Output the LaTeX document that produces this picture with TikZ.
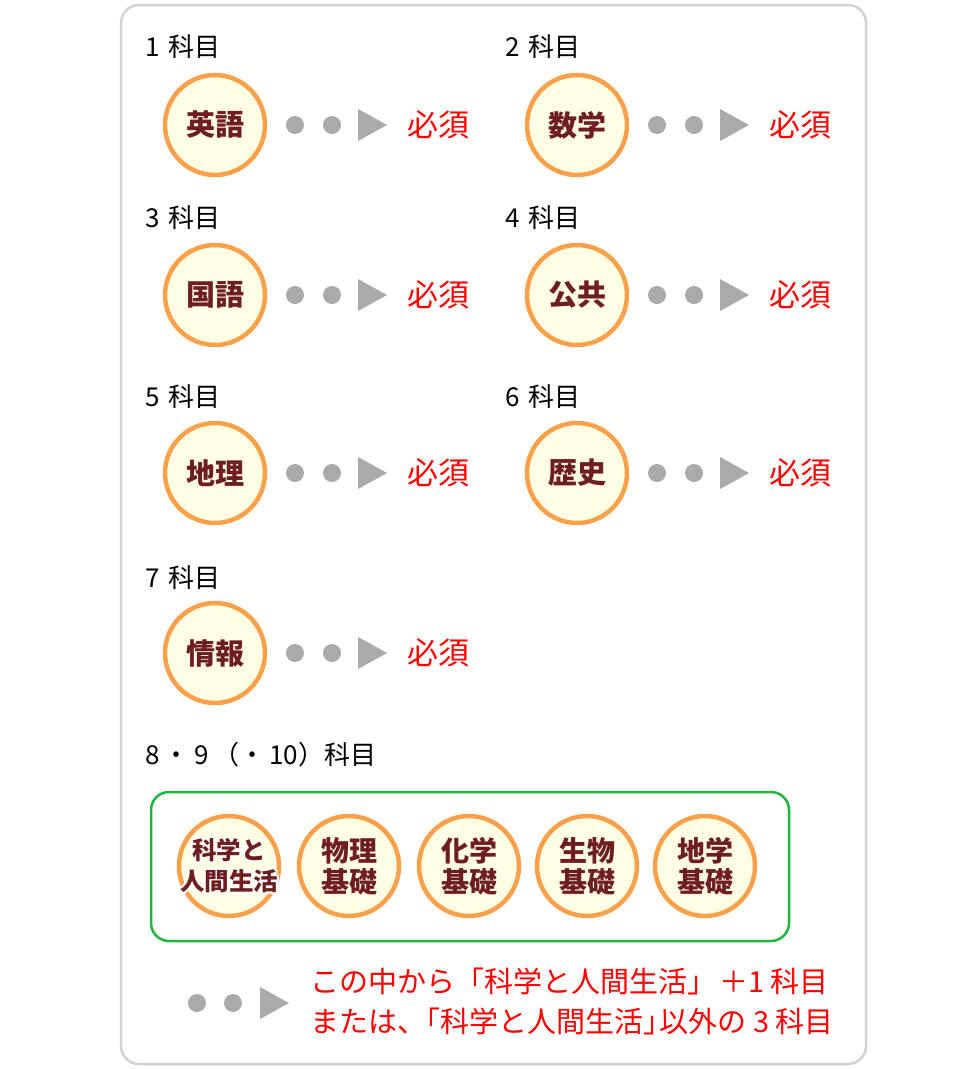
\documentclass[tikz,border=0pt]{standalone}
\usepackage{fontspec}
\setmainfont{Noto Sans CJK JP}
\usetikzlibrary{calc}
\definecolor{ring}{HTML}{F9A04A}
\definecolor{ringfill}{HTML}{FFFDE3}
\definecolor{brown}{HTML}{6E1E1E}
\definecolor{dotgray}{HTML}{AAAAAA}
\definecolor{boxgray}{HTML}{D2D2D2}
\definecolor{mustred}{HTML}{FF0000}
\definecolor{grp}{HTML}{22B43C}
\tikzset{
  subjc/.style={circle, draw=ring, fill=ringfill, line width=4.5pt, minimum size=100pt, inner sep=0pt},
  smallc/.style={circle, draw=ring, fill=ringfill, line width=4.5pt, minimum size=100pt, inner sep=0pt},
  subjtxt/.style={text=brown, font=\fontsize{29}{29}\selectfont\bfseries, inner sep=0pt, align=center},
  smalltxt/.style={text=brown, font=\fontsize{28}{31}\selectfont\bfseries, inner sep=0pt, align=center},
  tinytxt/.style={text=brown, font=\fontsize{24.5}{31}\selectfont\bfseries, inner sep=0pt, align=center},
  cnt/.style={anchor=west, inner sep=0pt, font=\fontsize{26}{26}\selectfont},
  must/.style={text=mustred, inner sep=0pt, font=\fontsize{31}{31}\selectfont},
  note/.style={text=mustred, anchor=west, inner sep=0pt, font=\fontsize{29}{29}\selectfont},
  gdot/.style={circle, fill=dotgray, minimum size=18pt, inner sep=0pt},
}
\newcommand\haloed[4]{% style, position, text, name
  \foreach \hx/\hy in {2/0,-2/0,0/2,0/-2,1.5/1.5,-1.5/1.5,1.5/-1.5,-1.5/-1.5}
    \node[#1, text=white] at ($(#2)+(\hx,\hy)$) {#3};
  \node[#1] (#4) at (#2) {#3};
}
\begin{document}
\begin{tikzpicture}[x=1pt, y=-1pt]
\useasboundingbox (0,0) rectangle (980,1069);
\fill[white] (0,0) rectangle (980,1069);
\draw[boxgray, line width=2.5pt, rounded corners=18pt] (121,5) rectangle (866,1064);

% ---- rows ----
\foreach \nm/\lx/\cx/\cy/\ly/\cnttext/\subtext in {
  a/145/215/125/47/1\,\,科目/英語,
  b/505/577/125/47/2\,\,科目/数学,
  c/145/215/295/218/3\,\,科目/国語,
  d/505/577/295/218/4\,\,科目/公共,
  e/145/215/473/397/5\,\,科目/地理,
  f/505/577/473/397/6\,\,科目/歴史,
  g/145/215/653/578/7\,\,科目/情報}{
  \node[cnt] (lab\nm) at (\lx,\ly) {\cnttext};
  \node[subjc] (c\nm) at (\cx,\cy) {};
  \node[subjtxt] (t\nm) at (c\nm) {\subtext};
  \node[gdot] (d1\nm) at (\cx+80,\cy) {};
  \node[gdot] (d2\nm) at (\cx+117,\cy) {};
  \coordinate (tr\nm) at (\cx+143,\cy);
  \fill[dotgray] (tr\nm) ++(0,-16) -- ++(29,16) -- ++(-29,16) -- cycle;
  \node[must] (m\nm) at (\cx+223,\cy) {必須};
}

% ---- group ----
\node[cnt] (labh) at (145,755) {8\,・\,9\,（・\,10）科目};
\draw[grp, line width=2.5pt, rounded corners=18pt] (151,792) rectangle (789,941);
\node[smallc] (s1) at (229,866) {};
\node[smallc] (s2) at (349,866) {};
\node[smallc] (s3) at (469,866) {};
\node[smallc] (s4) at (587,866) {};
\node[smallc] (s5) at (705,866) {};
\haloed{tinytxt}{s1}{科学と\\人間生活}{ts1}
\node[smalltxt] (ts2) at (s2) {物理\\基礎};
\node[smalltxt] (ts3) at (s3) {化学\\基礎};
\node[smalltxt] (ts4) at (s4) {生物\\基礎};
\node[smalltxt] (ts5) at (s5) {地学\\基礎};

% ---- bottom note ----
\node[gdot] (bd1) at (197,1003) {};
\node[gdot] (bd2) at (233,1003) {};
\coordinate (btr) at (260,1003);
\fill[dotgray] (btr) ++(0,-16) -- ++(29,16) -- ++(-29,16) -- cycle;
\node[note] (n1) at (310,981) {この中から「科学と人間生活」\kern3pt＋1\kern6pt 科目};
\node[note] (n2) at (310,1021) {または、\kern-0.5em「科学と人間生活」\kern-0.45em 以外の 3 科目};
\end{tikzpicture}
\end{document}
